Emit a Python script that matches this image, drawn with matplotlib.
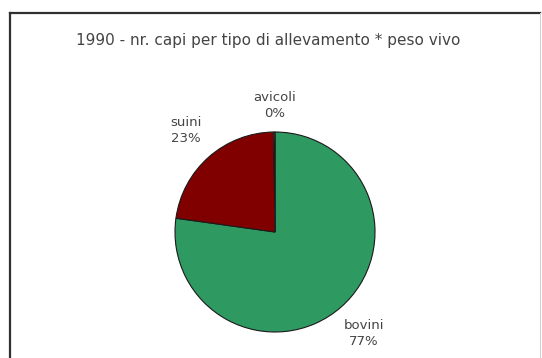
import numpy as np
import matplotlib
matplotlib.use("Agg")
import matplotlib.pyplot as plt
from matplotlib.lines import Line2D

plt.rcParams['font.family'] = ['DejaVu Sans']

# Data
categories = ["bovini", "suini", "avicoli"]
values = [77.2, 22.6, 0.2]
colors = ["#2E9A62", "#800000", "#C8C8FF"]
title = "1990 - nr. capi per tipo di allevamento * peso vivo"

W, H = 542, 358
fig = plt.figure(figsize=(W / 100, H / 100), dpi=100)
fig.patch.set_facecolor("white")

# Chart-area frame: dark top and left edges, light right edge
fig.add_artist(Line2D([10 / W, 10 / W], [0, 1 - 13 / H], color="#303030", lw=1.6,
                      transform=fig.transFigure))
fig.add_artist(Line2D([10 / W, 540 / W], [1 - 13 / H, 1 - 13 / H], color="#303030", lw=1.6,
                      transform=fig.transFigure))
fig.add_artist(Line2D([540 / W, 540 / W], [0, 1 - 13 / H], color="#D0D0D0", lw=0.8,
                      transform=fig.transFigure))

ax = fig.add_axes([0, 0, 1, 1])
cx, cy, r = 275, H - 232, 100
wedges, _ = ax.pie(values, colors=colors, startangle=90, counterclock=False,
                   center=(cx, cy), radius=r,
                   wedgeprops=dict(edgecolor="#1a1a1a", linewidth=0.8))
ax.set_xlim(0, W)
ax.set_ylim(0, H)
ax.set_aspect("equal")
ax.axis("off")

# Category labels with rounded percentages outside each wedge
total = sum(values)
label_dist = [1.35, 1.35, 1.27]
for w, name, v, d in zip(wedges, categories, values, label_dist):
    ang = np.deg2rad((w.theta1 + w.theta2) / 2)
    x = cx + d * r * np.cos(ang)
    y = cy + d * r * np.sin(ang)
    ax.text(x, y, f"{name}\n{round(100 * v / total):.0f}%", ha="center", va="center",
            fontsize=9.5, color="#444444", linespacing=1.3)

fig.text(268 / W, 1 - 40 / H, title, ha="center", va="center", fontsize=11, color="#444444")

fig.savefig("out.png", dpi=100)
